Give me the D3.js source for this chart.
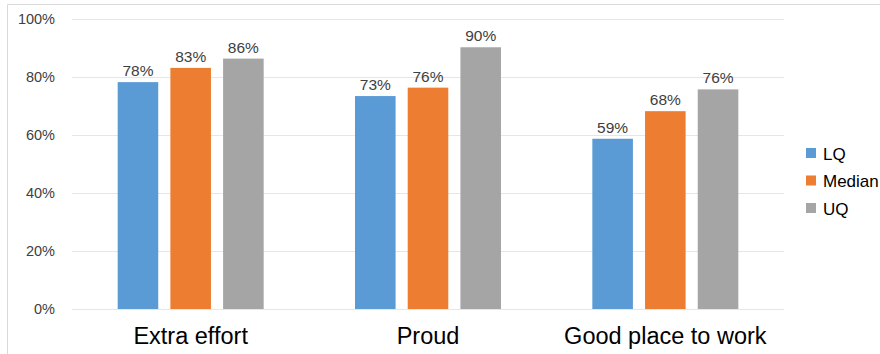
<!DOCTYPE html>
<html><head><meta charset="utf-8">
<script src="https://cdn.jsdelivr.net/npm/d3@7"></script>
<style>
html,body{margin:0;padding:0;background:#fff;}
svg{display:block;font-family:"Liberation Sans",Arial,sans-serif;}
</style></head>
<body>
<svg id="chart" width="880" height="354"></svg>
<script>
const categories = ["Extra effort", "Proud", "Good place to work"];
const seriesNames = ["LQ", "Median", "UQ"];
const lqValues = [78.1, 73.3, 58.6];
const medianValues = [83.0, 76.2, 68.1];
const uqValues = [86.2, 90.1, 75.6];
const valueLabels = [["78%","73%","59%"],["83%","76%","68%"],["86%","90%","76%"]];
const yTicks = [0, 20, 40, 60, 80, 100];
const colors = ["#5b9bd5", "#ed7d31", "#a5a5a5"];

const series = [lqValues, medianValues, uqValues];
const svg = d3.select("#chart");

// outer frame (top and left edges)
svg.append("path").attr("d","M7.5,354 L7.5,4.5 L880,4.5")
  .attr("fill","none").attr("stroke","#d9d9d9").attr("stroke-width",1);

// cropped title descender
svg.append("text").attr("x",100).attr("y",-3).attr("font-size",14).attr("fill","#000").text("y");

const plotLeft = 72, plotRight = 784, plotTop = 18.5, plotBottom = 309;
const x = d3.scaleBand().domain(categories).range([plotLeft, plotRight]).paddingInner(0).paddingOuter(0);
const x1 = d3.scaleBand().domain(seriesNames).range([0, 146]).paddingInner(0.23).paddingOuter(0);
const y = d3.scaleLinear().domain([0, 100]).range([plotBottom, plotTop]);

// gridlines
svg.append("g").selectAll("line").data(yTicks).join("line")
  .attr("x1", plotLeft).attr("x2", plotRight)
  .attr("y1", d => Math.round(y(d)) + 0.5).attr("y2", d => Math.round(y(d)) + 0.5)
  .attr("stroke", "#e6e6e6").attr("stroke-width", 1);

// y axis labels
const yAxis = d3.axisLeft(y).tickValues(yTicks).tickFormat(d => d + "%").tickSize(0).tickPadding(0);
const gy = svg.append("g").attr("transform", "translate(55,0)").call(yAxis);
gy.select(".domain").remove();
gy.selectAll("text").attr("font-size", 14.5).attr("fill", "#404040")
  .attr("font-family", '"Liberation Sans",Arial,sans-serif');

// bars
const groupOffset = (x.bandwidth() - 146) / 2;
series.forEach((vals, si) => {
  const g = svg.append("g");
  g.selectAll("rect").data(vals).join("rect")
    .attr("x", (d, i) => x(categories[i]) + groupOffset + x1(seriesNames[si]))
    .attr("y", d => y(d))
    .attr("width", x1.bandwidth())
    .attr("height", d => y(0) - y(d))
    .attr("fill", colors[si]);
  g.selectAll("text").data(vals).join("text")
    .attr("x", (d, i) => x(categories[i]) + groupOffset + x1(seriesNames[si]) + x1.bandwidth() / 2)
    .attr("y", d => y(d) - 6)
    .attr("text-anchor", "middle")
    .attr("font-size", 15.5).attr("fill", "#404040")
    .text((d, i) => valueLabels[si][i]);
});

// x axis labels
const xAxis = d3.axisBottom(x).tickSize(0).tickPadding(0);
const gx = svg.append("g").attr("transform", `translate(0,${plotBottom + 18})`).call(xAxis);
gx.select(".domain").remove();
gx.selectAll("text").attr("font-size", 23.5).attr("fill", "#000")
  .attr("font-family", '"Liberation Sans",Arial,sans-serif');

// legend
const legend = svg.append("g").attr("transform", "translate(806,148)");
seriesNames.forEach((name, i) => {
  const row = legend.append("g").attr("transform", `translate(0,${i * 27.5})`);
  row.append("rect").attr("x", 0).attr("y", 0).attr("width", 10).attr("height", 10).attr("fill", colors[i]);
  row.append("text").attr("x", 17).attr("y", 11.5).attr("font-size", 17).attr("fill", "#000").text(name);
});
</script>
</body></html>
